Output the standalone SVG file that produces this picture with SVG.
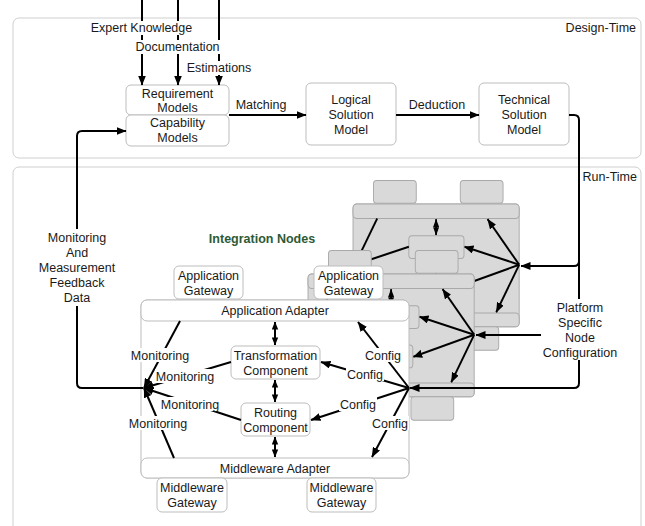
<svg xmlns="http://www.w3.org/2000/svg" width="645" height="526" viewBox="0 0 645 526">
<style>
text{font-family:"Liberation Sans",Arial,sans-serif;font-size:12.5px;fill:#1a1a1a;text-anchor:middle}
.panel{fill:#fff;stroke:#cfcfcf;stroke-width:1}
.box{fill:#fff;stroke:#bdbdbd;stroke-width:1}
.ln{fill:none;stroke:#000;stroke-width:2;stroke-linejoin:round}
.ghost .box{fill:#d9d9d9;stroke:#a9a9a9;stroke-width:1.5}
.ghost .ln{stroke-width:3}
.bg{fill:#fff}
.title{font-weight:bold;fill:#2d5a36}
.end{text-anchor:end}
</style>
<defs>
<marker id="ah" viewBox="0 0 10 8" refX="9.5" refY="4" markerWidth="5" markerHeight="4" orient="auto" markerUnits="strokeWidth">
<path d="M0 0 L10 4 L0 8 z" fill="#000"/>
</marker>
<marker id="ad" viewBox="0 0 10 8" refX="9.5" refY="4" markerWidth="4" markerHeight="3.5" orient="auto-start-reverse" markerUnits="strokeWidth">
<path d="M0 0 L10 4 L0 8 z" fill="#000"/>
</marker>
</defs>

<g id="panels">
<rect class="panel" x="13" y="18" width="628" height="140" rx="6"/>
<text class="end" x="636" y="31.5">Design-Time</text>
<rect class="panel" x="13" y="167" width="628" height="380" rx="6"/>
<text class="end" x="637" y="180.5">Run-Time</text>
</g>

<g id="requirement-models">
<rect class="box" x="126" y="85" width="103" height="30" rx="5"/>
<text x="177.5" y="97.5">Requirement</text>
<text x="177.5" y="111.5">Models</text>
</g>
<g id="capability-models">
<rect class="box" x="126" y="115" width="103" height="31" rx="5"/>
<text x="177.5" y="127">Capability</text>
<text x="177.5" y="141.5">Models</text>
</g>
<g id="logical-solution-model">
<rect class="box" x="306" y="83" width="90" height="62" rx="5"/>
<text x="351" y="103.5">Logical</text>
<text x="351" y="118.5">Solution</text>
<text x="351" y="133.5">Model</text>
</g>
<g id="technical-solution-model">
<rect class="box" x="479" y="83" width="90" height="62" rx="5"/>
<text x="524" y="103.5">Technical</text>
<text x="524" y="118.5">Solution</text>
<text x="524" y="133.5">Model</text>
</g>

<text class="title" x="262" y="242.5">Integration Nodes</text>

<g id="node-back" class="ghost" transform="matrix(0.62 0 0 0.69 265.6 -3)">
<rect class="box" x="141" y="300" width="268" height="178" rx="6"/>
<rect class="box" x="141" y="300" width="268" height="21" rx="6"/>
<rect class="box" x="141" y="458" width="268" height="20" rx="6"/>
<rect class="box" x="174" y="266" width="69" height="33" rx="5"/>
<rect class="box" x="314" y="266" width="69" height="33" rx="5"/>
<rect class="box" x="157" y="478" width="70" height="34" rx="5"/>
<rect class="box" x="307" y="478" width="69" height="34" rx="5"/>
<rect class="box" x="231" y="346" width="89" height="33" rx="5"/>
<rect class="box" x="241" y="403" width="69" height="33" rx="5"/>
<line class="ln" x1="275" y1="322" x2="275" y2="345" marker-start="url(#ad)" marker-end="url(#ad)"/>
<line class="ln" x1="275" y1="380" x2="275" y2="402" marker-start="url(#ad)" marker-end="url(#ad)"/>
<line class="ln" x1="275" y1="437" x2="275" y2="457" marker-start="url(#ad)" marker-end="url(#ad)"/>
<line class="ln" x1="180" y1="321" x2="144" y2="388" marker-end="url(#ah)"/>
<line class="ln" x1="231" y1="362" x2="144" y2="388" marker-end="url(#ah)"/>
<line class="ln" x1="241" y1="420" x2="144" y2="388" marker-end="url(#ah)"/>
<line class="ln" x1="174" y1="458" x2="144" y2="388" marker-end="url(#ah)"/>
<line class="ln" x1="409" y1="388" x2="358" y2="322" marker-end="url(#ah)"/>
<line class="ln" x1="409" y1="388" x2="321" y2="362" marker-end="url(#ah)"/>
<line class="ln" x1="409" y1="388" x2="311" y2="420" marker-end="url(#ah)"/>
<line class="ln" x1="409" y1="388" x2="372" y2="457" marker-end="url(#ah)"/>
</g>

<g id="node-middle" class="ghost" transform="matrix(0.62 0 0 0.69 220.6 67)">
<rect class="box" x="141" y="300" width="268" height="178" rx="6"/>
<rect class="box" x="141" y="300" width="268" height="21" rx="6"/>
<rect class="box" x="141" y="458" width="268" height="20" rx="6"/>
<rect class="box" x="174" y="266" width="69" height="33" rx="5"/>
<rect class="box" x="314" y="266" width="69" height="33" rx="5"/>
<rect class="box" x="157" y="478" width="70" height="34" rx="5"/>
<rect class="box" x="307" y="478" width="69" height="34" rx="5"/>
<rect class="box" x="231" y="346" width="89" height="33" rx="5"/>
<rect class="box" x="241" y="403" width="69" height="33" rx="5"/>
<line class="ln" x1="275" y1="322" x2="275" y2="345" marker-start="url(#ad)" marker-end="url(#ad)"/>
<line class="ln" x1="275" y1="380" x2="275" y2="402" marker-start="url(#ad)" marker-end="url(#ad)"/>
<line class="ln" x1="275" y1="437" x2="275" y2="457" marker-start="url(#ad)" marker-end="url(#ad)"/>
<line class="ln" x1="180" y1="321" x2="144" y2="388" marker-end="url(#ah)"/>
<line class="ln" x1="231" y1="362" x2="144" y2="388" marker-end="url(#ah)"/>
<line class="ln" x1="241" y1="420" x2="144" y2="388" marker-end="url(#ah)"/>
<line class="ln" x1="174" y1="458" x2="144" y2="388" marker-end="url(#ah)"/>
<line class="ln" x1="409" y1="388" x2="358" y2="322" marker-end="url(#ah)"/>
<line class="ln" x1="409" y1="388" x2="321" y2="362" marker-end="url(#ah)"/>
<line class="ln" x1="409" y1="388" x2="311" y2="420" marker-end="url(#ah)"/>
<line class="ln" x1="409" y1="388" x2="372" y2="457" marker-end="url(#ah)"/>
</g>

<g id="node-front">
<rect class="box" x="141" y="300" width="268" height="178" rx="6"/>
<rect class="box" x="141" y="300" width="268" height="21" rx="6"/>
<rect class="box" x="141" y="458" width="268" height="20" rx="6"/>
<rect class="box" x="174" y="266" width="69" height="33" rx="5"/>
<rect class="box" x="314" y="266" width="69" height="33" rx="5"/>
<rect class="box" x="157" y="478" width="70" height="34" rx="5"/>
<rect class="box" x="307" y="478" width="69" height="34" rx="5"/>
<rect class="box" x="231" y="346" width="89" height="33" rx="5"/>
<rect class="box" x="241" y="403" width="69" height="33" rx="5"/>
<text x="208.5" y="279.5">Application</text>
<text x="208.5" y="294.5">Gateway</text>
<text x="348.5" y="279.5">Application</text>
<text x="348.5" y="294.5">Gateway</text>
<text x="275" y="314.5">Application Adapter</text>
<text x="275.5" y="359.5">Transformation</text>
<text x="275.5" y="374.5">Component</text>
<text x="275.5" y="416.5">Routing</text>
<text x="275.5" y="431.5">Component</text>
<text x="275" y="472.5">Middleware Adapter</text>
<text x="192" y="492">Middleware</text>
<text x="192" y="507">Gateway</text>
<text x="341.5" y="492">Middleware</text>
<text x="341.5" y="507">Gateway</text>
<line class="ln" x1="275" y1="322" x2="275" y2="345" marker-start="url(#ad)" marker-end="url(#ad)"/>
<line class="ln" x1="275" y1="380" x2="275" y2="402" marker-start="url(#ad)" marker-end="url(#ad)"/>
<line class="ln" x1="275" y1="437" x2="275" y2="457" marker-start="url(#ad)" marker-end="url(#ad)"/>
<line class="ln" x1="180" y1="321" x2="144" y2="388" marker-end="url(#ah)"/>
<line class="ln" x1="231" y1="362" x2="144" y2="388" marker-end="url(#ah)"/>
<line class="ln" x1="241" y1="420" x2="144" y2="388" marker-end="url(#ah)"/>
<line class="ln" x1="174" y1="458" x2="144" y2="388" marker-end="url(#ah)"/>
<line class="ln" x1="409" y1="388" x2="358" y2="322" marker-end="url(#ah)"/>
<line class="ln" x1="409" y1="388" x2="321" y2="362" marker-end="url(#ah)"/>
<line class="ln" x1="409" y1="388" x2="311" y2="420" marker-end="url(#ah)"/>
<line class="ln" x1="409" y1="388" x2="372" y2="457" marker-end="url(#ah)"/>
<rect class="bg" x="130" y="348" width="60" height="14"/>
<text x="160" y="359.5">Monitoring</text>
<rect class="bg" x="155" y="369" width="60" height="14"/>
<text x="185" y="380.5">Monitoring</text>
<rect class="bg" x="160" y="397" width="60" height="14"/>
<text x="190" y="408.5">Monitoring</text>
<rect class="bg" x="128" y="416" width="60" height="14"/>
<text x="158" y="427.5">Monitoring</text>
<rect class="bg" x="364" y="348" width="38" height="14"/>
<text x="383" y="359.5">Config</text>
<rect class="bg" x="346" y="367" width="38" height="14"/>
<text x="365" y="378.5">Config</text>
<rect class="bg" x="339" y="397" width="38" height="14"/>
<text x="358" y="408.5">Config</text>
<rect class="bg" x="371" y="416" width="38" height="14"/>
<text x="390" y="427.5">Config</text>
</g>

<g id="connectors">
<path class="ln" d="M142 0 V85" marker-end="url(#ah)"/>
<path class="ln" d="M178 0 V85" marker-end="url(#ah)"/>
<path class="ln" d="M219 0 V85" marker-end="url(#ah)"/>
<path class="ln" d="M229 115 H306" marker-end="url(#ah)"/>
<path class="ln" d="M396 115 H479" marker-end="url(#ah)"/>
<path class="ln" d="M569 115 H574 Q579 115 579 120 V299"/>
<path class="ln" d="M579 261 Q579 266 574 266 H521" marker-end="url(#ah)"/>
<path class="ln" d="M541 335 H476" marker-end="url(#ah)"/>
<path class="ln" d="M579 360 V383 Q579 388 574 388 H410" marker-end="url(#ah)"/>
<path class="ln" d="M143 388 H82 Q77 388 77 383 V136 Q77 131 82 131 H126" marker-end="url(#ah)"/>
</g>

<g id="connector-labels">
<rect class="bg" x="89" y="21" width="105" height="14"/>
<text x="141.5" y="31.5">Expert Knowledge</text>
<rect class="bg" x="134" y="40" width="87" height="14"/>
<text x="177.5" y="50.5">Documentation</text>
<rect class="bg" x="185" y="61" width="68" height="14"/>
<text x="219" y="71.5">Estimations</text>
<text x="261" y="108.5">Matching</text>
<text x="437" y="108.5">Deduction</text>
<rect class="bg" x="37" y="229" width="80" height="77"/>
<text x="77" y="241.5">Monitoring</text>
<text x="77" y="256.5">And</text>
<text x="77" y="271.5">Measurement</text>
<text x="77" y="286.5">Feedback</text>
<text x="77" y="301.5">Data</text>
<text x="580" y="311.5">Platform</text>
<text x="580" y="326.5">Specific</text>
<text x="580" y="341.5">Node</text>
<text x="580" y="356.5">Configuration</text>
</g>
</svg>
